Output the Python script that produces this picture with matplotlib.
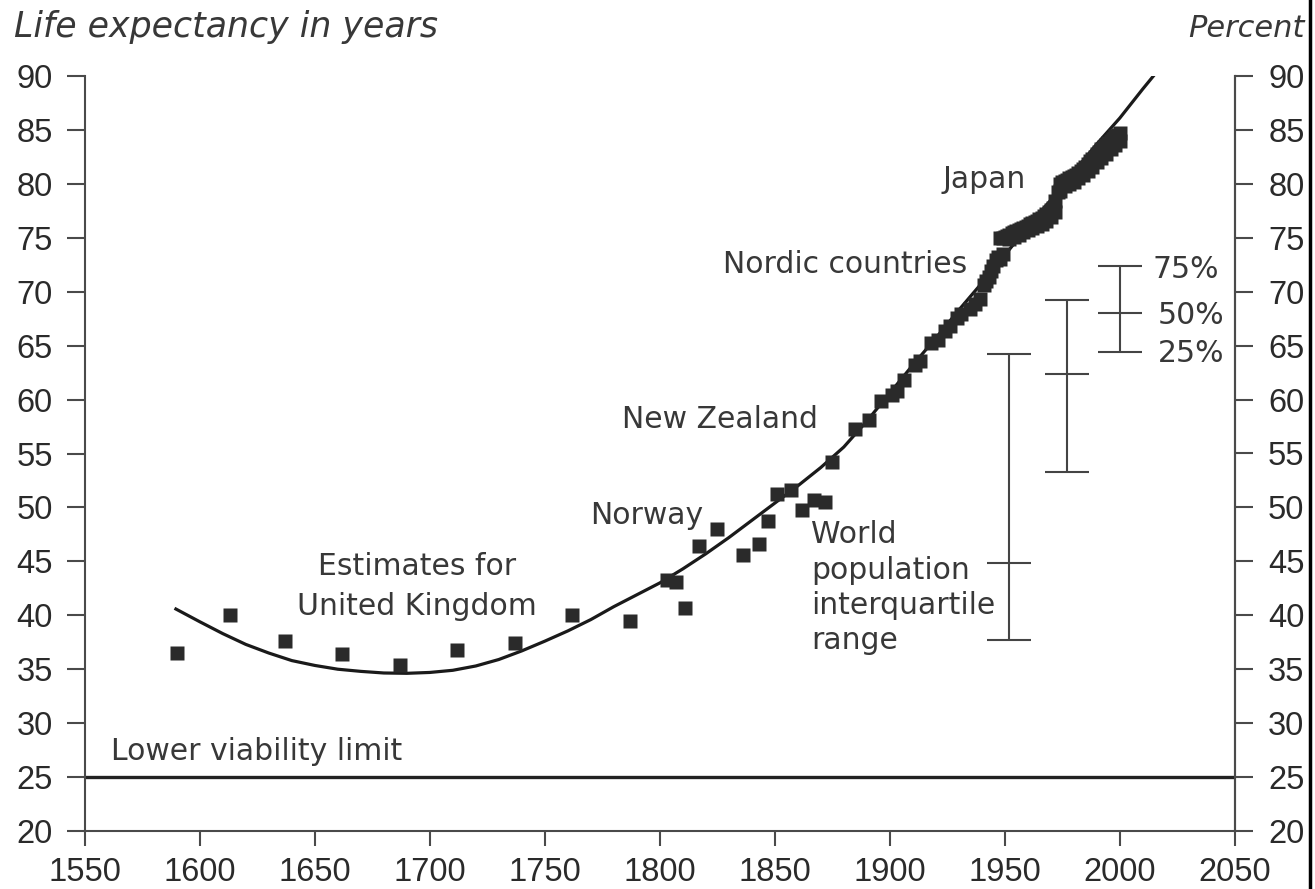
import matplotlib
matplotlib.use("Agg")
import matplotlib.pyplot as plt
from matplotlib.lines import Line2D
from matplotlib.patches import Rectangle

# ---------------- data ----------------
# Estimates for United Kingdom
uk_years = [1590, 1613, 1637, 1662, 1687, 1712, 1737, 1762, 1787]
uk_vals = [36.5, 40.0, 37.6, 36.4, 35.4, 36.8, 37.4, 40.0, 39.5]

# Norway era record points
nor_years = [1803, 1807, 1811, 1817, 1825, 1836, 1843, 1847, 1851, 1857,
             1862, 1867, 1872, 1875]
nor_vals = [43.3, 43.1, 40.7, 46.4, 48.0, 45.6, 46.6, 48.7, 51.2, 51.6,
            49.8, 50.7, 50.5, 54.2]

# New Zealand era record points
nz_years = [1885, 1891, 1896, 1901, 1903, 1906, 1911, 1913, 1918, 1921,
            1924, 1926, 1929, 1931, 1935, 1937, 1939]
nz_vals = [57.3, 58.1, 59.9, 60.4, 60.8, 61.8, 63.2, 63.6, 65.2, 65.5,
           66.4, 66.8, 67.6, 67.9, 68.4, 68.9, 69.3]

# Nordic countries
nordic_years = [1941, 1942, 1943, 1944, 1945, 1946, 1947, 1948, 1949]
nordic_vals = [70.6, 71.0, 71.4, 71.9, 72.4, 72.9, 73.2, 73.0, 73.5]

# Japan (upper track)
japan_years = list(range(1948, 2001))
japan_vals = [75.0, 75.0, 75.1, 75.2, 75.3, 75.4, 75.5, 75.6, 75.7, 75.8,
              75.9, 76.0, 76.1, 76.3, 76.4, 76.5, 76.6, 76.7, 76.8, 77.0,
              77.2, 77.4, 77.6, 77.8, 78.4, 79.2, 80.0, 80.2, 80.3, 80.4,
              80.5, 80.6, 80.7, 80.8, 81.0, 81.2, 81.4, 81.6, 81.8, 82.1,
              82.3, 82.5, 82.8, 83.0, 83.2, 83.4, 83.6, 83.8, 84.0, 84.2,
              84.4, 84.5, 84.7]
# Japan (lower track of the band)
japan2_years = [1952, 1954, 1956, 1958, 1960, 1962, 1964, 1966, 1968, 1970,
                1972, 1974, 1976, 1978, 1980, 1982, 1984, 1986, 1988, 1990,
                1992, 1994, 1996, 1998, 2000]
japan2_vals = [74.9, 75.1, 75.3, 75.5, 75.7, 75.9, 76.1, 76.3, 76.6, 76.9,
               77.4, 79.3, 79.8, 80.0, 80.2, 80.5, 80.8, 81.2, 81.6, 82.0,
               82.4, 82.8, 83.2, 83.6, 84.0]

# Trend curve
curve_years = [1589, 1600, 1610, 1620, 1630, 1640, 1650, 1660, 1670, 1680,
               1690, 1700, 1710, 1720, 1730, 1740, 1750, 1760, 1770, 1780,
               1790, 1800, 1810, 1820, 1830, 1840, 1850, 1860, 1870, 1880,
               1890, 1900, 1910, 1920, 1930, 1940, 1950, 1960, 1970, 1980,
               1990, 2000, 2010, 2015]
curve_vals = [40.65, 39.4, 38.3, 37.3, 36.5, 35.8, 35.35, 35.0, 34.8, 34.65,
              34.62, 34.7, 34.9, 35.3, 35.9, 36.7, 37.6, 38.55, 39.6, 40.8,
              41.9, 43.0, 44.3, 45.7, 47.2, 48.8, 50.4, 52.0, 53.7, 55.6,
              58.0, 60.6, 63.2, 65.7, 68.3, 70.8, 73.4, 76.0, 78.5, 81.1,
              83.7, 86.1, 88.8, 90.1]

# World population interquartile range
iqr_years = [1952, 1977, 2000]
iqr_low = [37.7, 53.3, 64.4]
iqr_mid = [44.85, 62.4, 68.0]
iqr_high = [64.2, 69.2, 72.4]

lower_limit = 25

x_ticks = [1550, 1600, 1650, 1700, 1750, 1800, 1850, 1900, 1950, 2000, 2050]
y_ticks = [20, 25, 30, 35, 40, 45, 50, 55, 60, 65, 70, 75, 80, 85, 90]

# ---------------- style ----------------
W, H = 1315, 889
ink = "#2a2a2a"
txt = "#383838"
axc = "#4a4a4a"
tickfont = dict(family=["Liberation Sans", "DejaVu Sans"], size=23.5)
annfont = dict(family="DejaVu Sans", size=21.5)

fig = plt.figure(figsize=(W / 100, H / 100), dpi=100)
fig.patch.set_facecolor("white")
ax = fig.add_axes([84.8 / W, 58 / H, 1150 / W, 755 / H])
ax.set_xlim(1550, 2050)
ax.set_ylim(20, 90)

ax.spines["top"].set_visible(False)
for s in ["left", "bottom", "right"]:
    ax.spines[s].set_color(axc)
    ax.spines[s].set_linewidth(1.5)

ax.set_xticks(x_ticks)
ax.set_yticks(y_ticks)
ax.tick_params(axis="x", direction="out", length=11, width=1.5, color=axc,
               pad=8, labelcolor=ink)
ax.tick_params(axis="y", direction="out", length=13, width=1.5, color=axc,
               pad=10, labelcolor=ink)
for lab in ax.get_xticklabels() + ax.get_yticklabels():
    lab.set_fontfamily(tickfont["family"])
    lab.set_fontsize(tickfont["size"])

ax2 = ax.twinx()
ax2.set_ylim(20, 90)
ax2.set_yticks(y_ticks)
for s in ["top", "left", "bottom"]:
    ax2.spines[s].set_visible(False)
ax2.spines["right"].set_color(axc)
ax2.spines["right"].set_linewidth(1.5)
ax2.tick_params(axis="y", direction="out", length=13, width=1.5, color=axc,
                pad=11, labelcolor=ink)
for lab in ax2.get_yticklabels():
    lab.set_fontfamily(tickfont["family"])
    lab.set_fontsize(tickfont["size"])

# lower viability line
ax.axhline(lower_limit, color="#222222", lw=2.4, zorder=2)

# trend curve
ax.plot(curve_years, curve_vals, color="#1a1a1a", lw=2.3, zorder=3,
        solid_capstyle="butt")

# squares
mk = dict(marker="s", ms=10.5, color=ink, ls="none", zorder=4, mec="none")
ax.plot(uk_years, uk_vals, **mk)
ax.plot(nor_years, nor_vals, **mk)
ax.plot(nz_years, nz_vals, **mk)
ax.plot(nordic_years, nordic_vals, **mk)
ax.plot(japan_years, japan_vals, **mk)
ax.plot(japan2_years, japan2_vals, **mk)

# interquartile bars
lo_err = [m - l for m, l in zip(iqr_mid, iqr_low)]
hi_err = [h - m for h, m in zip(iqr_high, iqr_mid)]
ax.errorbar(iqr_years, iqr_mid, yerr=[lo_err, hi_err], fmt="none",
            ecolor="#444444", elinewidth=1.5, capsize=15.8, capthick=1.5,
            zorder=3)
ax.plot(iqr_years, iqr_mid, ls="none", marker="_", ms=31.6, mew=1.5,
        color="#444444", zorder=3)

# annotations
def t(x, y, s, **kw):
    ax.text(x, y, s, color=txt, va="baseline", **annfont, **kw)

t(1923.1, 79.6, "Japan")
t(1933.6, 71.7, "Nordic countries", ha="right")
t(1783.6, 57.34, "New Zealand")
t(1769.7, 48.46, "Norway")
t(1694.4, 43.73, "Estimates for", ha="center")
t(1694.4, 40.03, "United Kingdom", ha="center")
t(1865.7, 46.7, "World")
t(1865.7, 43.36, "population")
t(1865.7, 40.1, "interquartile")
t(1865.7, 36.9, "range")
t(1561.4, 26.6, "Lower viability limit")
t(2014.4, 71.3, "75%")
t(2016.4, 67.0, "50%")
t(2016.4, 63.45, "25%")

fig.text(14 / W, 1 - 37 / H, "Life expectancy in years", style="italic",
         color=txt, family="DejaVu Sans", size=25, va="baseline")
fig.text(1305 / W, 1 - 37 / H, "Percent", style="italic", ha="right",
         color=txt, family="DejaVu Sans", size=22, va="baseline")

# cropped right edge of the original figure
fig.add_artist(Line2D([1310 / W, 1310 / W], [0, 1], transform=fig.transFigure,
                      color="black", lw=2.5, zorder=11))

fig.savefig("out.png", dpi=100, facecolor="white")
